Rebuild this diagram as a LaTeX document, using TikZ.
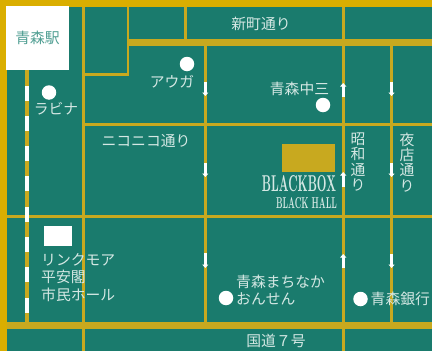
\documentclass[tikz,border=0pt]{standalone}
\usepackage{fontspec}
\usepackage{graphicx}
\setmainfont{Noto Sans CJK JP}
\newfontfamily\latinblack{Latin Modern Roman}
\usetikzlibrary{arrows.meta}
\definecolor{mapteal}{HTML}{1A7B6D}
\definecolor{edgegold}{HTML}{DAAE00}
\definecolor{roadgold}{HTML}{C8A91F}
\definecolor{labelpale}{HTML}{D5E8E4}
\definecolor{stationtext}{HTML}{4F9E92}
\tikzset{
  road/.style={draw=roadgold,line width=2.6pt},
  mainroad/.style={draw=roadgold,line width=7.4pt},
  railbase/.style={draw=roadgold,line width=4pt},
  raildash/.style={draw=white,line width=4pt},
  oneway/.style={draw=white,line width=3pt,-{Triangle[length=3.5pt,width=6pt]}},
  spot/.style={circle,fill=white,minimum size=14.5pt,inner sep=0pt},
  maplabel/.style={text=labelpale,font=\fontsize{14.8}{17.5}\selectfont,inner sep=0pt,align=left},
  vlabel/.style={text=labelpale,font=\fontsize{14.8}{15.3}\selectfont,inner sep=0pt,align=center}
}
\begin{document}
\begin{tikzpicture}[x=1pt,y=-1pt]
\useasboundingbox (0,0) rectangle (432,351);
\fill[mapteal] (0,0) rectangle (432,351);
% thin roads
\draw[road] (83.5,7) -- (83.5,351);
\draw[road] (83.5,74.3) -- (128,74.3) -- (128,7);
\draw[road] (185.5,7) -- (185.5,40);
\draw[road] (205.3,43) -- (205.3,322);
\draw[road] (343.2,7) -- (343.2,351);
\draw[road] (391.6,43) -- (391.6,322);
\draw[road] (83.5,124.4) -- (432,124.4);
\draw[road] (7,216.3) -- (432,216.3);
% railway
\draw[railbase] (27,70) -- (27,322);
\foreach \ya/\yb in {86/101,116/131,146/161,176/191,207/222,237/252,267/282,298/313}
  \draw[raildash] (27,\ya) -- (27,\yb);
\draw[road] (7,216.3) -- (25,216.3);
% main roads
\draw[mainroad] (127,42.6) -- (432,42.6);
\draw[mainroad] (7,325.5) -- (432,325.5);
% edges
\fill[edgegold] (0,0) rectangle (432,7);
\fill[edgegold] (0,0) rectangle (7,351);
% one-way arrows
\draw[oneway] (205.3,82) -- (205.3,96);
\draw[oneway] (205.3,163) -- (205.3,177);
\draw[oneway] (205.3,253) -- (205.3,268);
\draw[oneway] (343.2,97) -- (343.2,83);
\draw[oneway] (343.2,187) -- (343.2,172);
\draw[oneway] (343.2,268) -- (343.2,254);
\draw[oneway] (391.6,82) -- (391.6,96);
\draw[oneway] (391.6,163) -- (391.6,177);
\draw[oneway] (391.6,254) -- (391.6,268);
% buildings
\node[fill=white,minimum width=63pt,minimum height=64pt,inner sep=0pt,text=stationtext,font=\fontsize{14.8}{17}\selectfont] (station) at (37.5,38) {\raisebox{-3pt}{青森駅}};
\node[fill=white,minimum width=28pt,minimum height=20pt,inner sep=0pt] (linkbox) at (58,236) {};
\node[fill=roadgold,minimum width=53pt,minimum height=28pt,inner sep=0pt] (blackbox) at (308.5,158) {};
% spots
\node[spot] (spotauga) at (187,64) {};
\node[spot] (spotlabina) at (49,92.5) {};
\node[spot] (spotchu) at (323,105) {};
\node[spot] (spotonsen) at (226,298) {};
\node[spot] (spotbank) at (360.5,299) {};
% labels
\node[maplabel] (shinmachi) at (261,24) {新町通り};
\node[maplabel] (auga) at (172,82) {アウガ};
\node[maplabel] (labina) at (56,109) {ラビナ};
\node[maplabel] (nikoniko) at (146,141) {ニコニコ通り};
\node[maplabel] (chusan) at (299.5,88.5) {青森中三};
\node[maplabel,anchor=north west] (link) at (41,253) {リンクモア\\平安閣\\市民ホール};
\node[maplabel,anchor=north west,font=\fontsize{14.8}{17}\selectfont] (onsen) at (236,275) {青森まちなか\\おんせん};
\node[maplabel,anchor=west] (bank) at (370.5,298.5) {青森銀行};
\node[maplabel] (route) at (276,341) {国道７号};
\node[vlabel,anchor=north] (showa) at (358,132.5) {昭\\和\\通\\り};
\node[vlabel,anchor=north] (yomise) at (407,132.5) {夜\\店\\通\\り};
\node[inner sep=0pt,text=labelpale,font=\latinblack\bfseries] (bbname) at (299,184) {\resizebox{74pt}{16pt}{BLACKBOX}};
\node[inner sep=0pt,text=labelpale,font=\latinblack\bfseries] (bhall) at (306.5,203.5) {\resizebox{61pt}{11pt}{BLACK HALL}};
\end{tikzpicture}
\end{document}
